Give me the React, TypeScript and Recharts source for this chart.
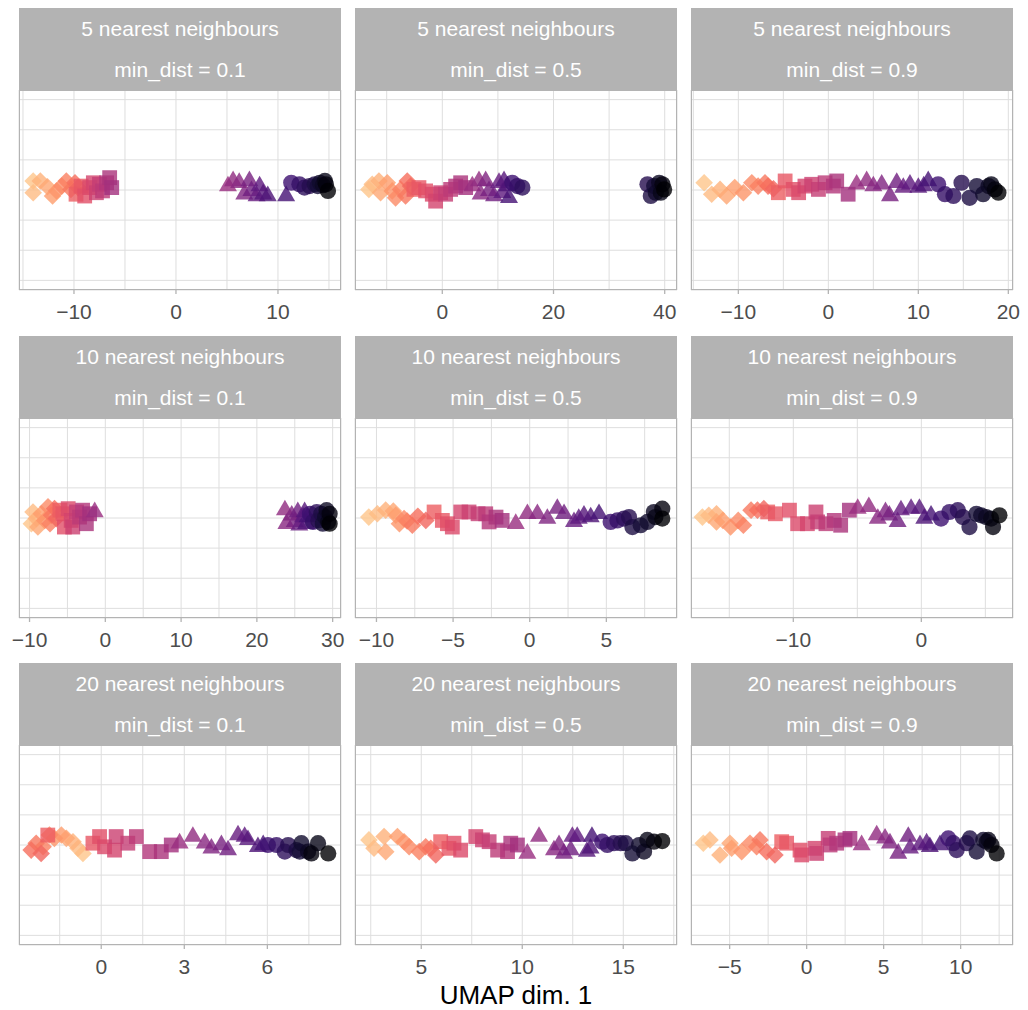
import { ScatterChart, Scatter, XAxis, YAxis, CartesianGrid } from 'recharts';

// facet labels
const NEIGHBOURS = [5, 10, 20];
const MIN_DIST = ['0.1', '0.5', '0.9'];

// point groups, 11 points each, in colour order (light -> dark)
const SHAPES = ['diamond', 'square', 'triangle', 'circle'];
const PER_SHAPE = 11;

// UMAP dim. 1 / jittered dim. 2 per facet
const nn5_md01_x = [
  -14.0, -14.0, -13.3, -12.6, -12.1, -11.7, -11.2, -10.75, -10.3, -9.9, -9.6,
  -9.8, -9.3, -8.95, -8.46, -8.1, -7.8, -7.5, -7.2, -6.8, -6.5, -6.3,
  5.1, 5.6, 6.2, 6.7, 7.2, 7.4, 7.9, 8.2, 8.55, 9.0, 10.8,
  11.3, 12.1, 12.6, 13.1, 13.6, 13.9, 14.1, 14.4, 14.6, 14.7, 14.9,
];
const nn5_md01_y = [
  0.3, -0.09, 0.3, 0.11, -0.2, -0.03, 0.13, 0.3, 0.02, 0.24, 0.08,
  -0.14, 0.13, -0.2, 0.08, 0.24, -0.09, 0.19, -0.03, 0.24, 0.41, 0.08,
  0.13, 0.3, 0.24, -0.14, 0.3, -0.03, -0.2, 0.13, -0.14, -0.2, -0.2,
  0.24, 0.19, 0.08, 0.13, 0.19, 0.13, 0.24, 0.16, 0.3, 0.19, -0.03,
];
const nn5_md05_x = [
  -13.2, -12.6, -11.4, -11.1, -9.9, -9.0, -8.4, -7.5, -6.6, -6.3, -5.7,
  -5.1, -4.2, -3.0, -1.8, -1.2, -0.3, 0.6, 1.5, 2.4, 3.3, 4.2,
  5.4, 6.6, 6.9, 7.8, 8.4, 9.3, 10.2, 10.8, 11.1, 11.7, 12.0,
  12.6, 13.5, 14.4, 36.9, 37.5, 38.1, 38.4, 39.0, 39.3, 39.6, 39.9,
];
const nn5_md05_y = [
  0.02, 0.19, 0.3, -0.09, 0.24, -0.03, -0.26, 0.02, -0.2, 0.3, 0.13,
  0.02, 0.08, -0.03, -0.14, -0.37, -0.09, -0.14, 0.02, 0.13, 0.24, 0.08,
  0.13, 0.3, -0.14, 0.3, -0.03, -0.2, 0.24, -0.09, 0.3, 0.13, -0.26,
  0.24, 0.13, 0.08, 0.19, -0.2, 0.13, -0.09, 0.24, -0.09, 0.19, 0.02,
];
const nn5_md09_x = [
  -13.8, -12.96, -12.03, -11.3, -10.4, -9.44, -8.5, -7.8, -7.04, -6.7, -6.1,
  -5.55, -4.8, -3.9, -3.3, -2.6, -1.85, -1.1, -0.36, 0.56, 0.93, 2.2,
  3.15, 4.26, 5.0, 5.93, 6.85, 7.6, 8.33, 9.07, 10.0, 10.6, 11.1,
  12.2, 12.96, 13.9, 14.8, 15.7, 16.5, 17.2, 17.8, 18.1, 18.5, 18.9,
];
const nn5_md09_y = [
  0.24, -0.14, 0.02, -0.2, 0.08, -0.09, 0.24, 0.13, 0.24, 0.13, 0.04,
  -0.09, 0.3, 0.02, -0.09, 0.13, 0.19, 0.02, 0.24, 0.13, 0.3, -0.14,
  0.19, 0.3, 0.13, 0.19, -0.2, 0.24, 0.08, 0.19, 0.08, 0.13, 0.3,
  0.19, -0.14, -0.2, 0.24, -0.26, 0.13, -0.14, 0.13, 0.19, 0.02, -0.09,
];
const nn10_md01_x = [
  -9.76, -9.54, -9.1, -8.9, -8.44, -8.0, -7.56, -7.3, -7.1, -6.7, -6.46,
  -6.0, -5.6, -5.4, -4.9, -4.5, -4.3, -3.8, -3.4, -3.0, -2.5, -2.07,
  -1.4, 23.7, 23.9, 24.6, 25.0, 25.4, 25.6, 26.1, 26.3, 26.5, 26.7,
  27.0, 27.4, 27.9, 28.1, 28.5, 28.7, 29.0, 29.2, 29.4, 29.6, 29.6,
];
const nn10_md01_y = [
  -0.19, 0.2, -0.02, -0.3, 0.14, -0.08, 0.37, -0.19, 0.09, 0.31, -0.02,
  0.26, 0.14, -0.3, 0.31, -0.08, -0.3, 0.2, 0.03, 0.26, -0.19, 0.14,
  0.2, 0.26, -0.19, 0.09, -0.13, 0.2, -0.24, 0.03, 0.2, -0.19, 0.03,
  0.14, -0.13, 0.2, -0.08, 0.14, -0.19, 0.03, 0.26, -0.13, 0.14, -0.19,
];
const nn10_md05_x = [
  -10.5, -9.94, -9.4, -8.9, -8.74, -8.5, -8.2, -8.0, -7.66, -7.3, -6.78,
  -6.24, -5.7, -5.37, -5.05, -4.5, -3.96, -3.37, -2.87, -2.65, -2.2, -1.8,
  -0.91, -0.15, 0.5, 1.15, 1.8, 2.24, 2.89, 3.2, 3.54, 3.98, 4.52,
  5.28, 5.72, 6.15, 6.48, 6.7, 7.24, 7.68, 8.1, 8.2, 8.65, 8.65,
];
const nn10_md05_y = [
  0.03, 0.14, 0.26, 0.23, 0.09, -0.19, -0.02, -0.1, -0.24, 0.06, -0.08,
  0.2, -0.08, -0.19, -0.3, 0.2, 0.2, 0.14, 0.14, -0.13, 0.03, -0.08,
  -0.19, 0.14, 0.14, -0.02, 0.31, 0.14, -0.13, -0.02, 0.09, 0.03, 0.14,
  -0.13, -0.08, -0.02, 0.03, -0.3, -0.24, -0.13, 0.2, 0.03, 0.31, -0.02,
];
const nn10_md09_x = [
  -17.1, -16.6, -16.0, -16.0, -15.5, -14.9, -14.3, -13.9, -13.3, -12.8, -12.3,
  -12.0, -11.4, -10.3, -9.66, -8.9, -8.23, -8.1, -7.45, -6.8, -6.3, -5.62,
  -4.97, -4.1, -3.4, -2.8, -2.5, -1.85, -1.59, -0.8, -0.15, 0.23, 0.76,
  1.54, 2.2, 2.85, 3.24, 3.76, 4.3, 4.67, 5.06, 5.45, 5.6, 6.1,
];
const nn10_md09_y = [
  0.03, 0.09, 0.14, -0.13, -0.08, -0.3, -0.08, -0.24, 0.26, 0.26, 0.31,
  0.2, 0.14, 0.26, -0.19, -0.19, 0.2, -0.13, -0.19, -0.08, -0.24, 0.26,
  0.31, 0.37, -0.02, 0.2, 0.09, -0.13, 0.26, 0.31, 0.31, -0.02, 0.09,
  -0.02, 0.2, 0.26, 0.03, -0.3, 0.14, 0.09, 0.03, -0.02, -0.3, 0.09,
];
const nn20_md01_x = [
  -0.66, -0.84, -1.02, -1.26, -1.44, -1.69, -1.87, -2.1, -2.35, -2.53, -2.17,
  -1.93, -0.3, -0.06, 0.12, 0.48, 0.54, 0.96, 1.27, 1.75, 2.17, 2.53,
  2.83, 3.31, 3.74, 3.98, 4.34, 4.58, 4.94, 5.18, 5.3, 5.66, 5.85,
  6.02, 6.33, 6.63, 6.75, 7.05, 7.17, 7.23, 7.47, 7.83, 7.59, 8.2,
];
const nn20_md01_y = [
  -0.28, -0.11, 0.11, 0.22, 0.33, 0.22, 0.33, -0.06, 0.06, -0.17, -0.28,
  0.33, 0.06, 0.28, -0.06, -0.17, 0.28, 0.06, 0.28, -0.22, -0.22, 0.0,
  0.06, 0.28, 0.06, -0.11, 0.0, -0.17, 0.33, 0.28, 0.17, -0.06, 0.0,
  0.0, 0.0, -0.22, 0.0, -0.17, -0.22, 0.06, -0.22, 0.06, -0.28, -0.28,
];
const nn20_md05_x = [
  2.41, 2.66, 3.16, 3.24, 3.82, 4.15, 4.4, 4.9, 5.22, 5.47, 5.72,
  5.96, 6.37, 6.62, 6.95, 7.7, 8.03, 8.36, 8.78, 9.27, 9.43, 9.76,
  10.25, 10.83, 11.57, 11.82, 12.06, 12.4, 12.48, 12.72, 13.2, 13.38, 13.45,
  13.96, 14.21, 14.54, 14.87, 15.12, 15.45, 15.78, 16.03, 16.19, 16.52, 16.93,
];
const nn20_md05_y = [
  0.17, -0.11, 0.28, -0.22, 0.28, 0.11, -0.06, -0.22, -0.06, -0.11, -0.33,
  0.11, -0.11, 0.06, -0.17, 0.28, 0.17, 0.11, -0.17, -0.22, 0.06, 0.0,
  -0.28, 0.28, -0.17, 0.0, -0.28, -0.17, 0.28, 0.28, -0.22, -0.11, 0.28,
  0.11, 0.0, 0.06, 0.06, 0.06, -0.28, 0.0, -0.22, 0.17, 0.11, 0.13,
];
const nn20_md09_x = [
  -6.71, -6.28, -5.63, -4.98, -4.87, -4.22, -3.68, -3.25, -3.03, -2.6, -2.06,
  -1.62, -1.3, -0.43, -0.32, 0.54, 0.65, 1.4, 1.52, 1.95, 2.49, 2.81,
  3.57, 4.55, 5.09, 5.41, 5.95, 6.6, 6.71, 7.36, 7.79, 8.0, 8.66,
  9.2, 9.52, 9.74, 10.39, 10.6, 11.04, 11.47, 11.69, 11.8, 12.0, 12.34,
];
const nn20_md09_y = [
  0.06, 0.17, -0.33, 0.06, -0.11, -0.22, 0.06, -0.06, 0.17, -0.22, -0.33,
  0.11, 0.06, -0.17, -0.33, -0.11, -0.28, 0.22, 0.0, 0.06, 0.17, 0.22,
  0.0, 0.33, 0.22, 0.06, -0.28, 0.28, -0.11, 0.0, 0.06, -0.06, 0.0,
  0.22, 0.06, -0.17, 0.06, 0.22, -0.22, 0.17, 0.11, 0.17, 0.0, -0.28,
];

// axis setup per facet (free x scales)
const PANELS = [
  { xs: nn5_md01_x, ys: nn5_md01_y, domain: [-15.39, 16.18], major: [-10, 0, 10], minor: [-15, -5, 5, 15] },
  { xs: nn5_md05_x, ys: nn5_md05_y, domain: [-15.7, 42.21], major: [0, 20, 40], minor: [-10, 10, 30] },
  { xs: nn5_md09_x, ys: nn5_md09_y, domain: [-15.26, 20.52], major: [-10, 0, 10, 20], minor: [-15, -5, 5, 15] },
  { xs: nn10_md01_x, ys: nn10_md01_y, domain: [-11.39, 31.1], major: [-10, 0, 10, 20, 30], minor: [-5, 5, 15, 25] },
  { xs: nn10_md05_x, ys: nn10_md05_y, domain: [-11.4, 9.61], major: [-10, -5, 0, 5], minor: [-7.5, -2.5, 2.5, 7.5] },
  { xs: nn10_md09_x, ys: nn10_md09_y, domain: [-17.99, 7.16], major: [-10, 0], minor: [-15, -5, 5] },
  { xs: nn20_md01_x, ys: nn20_md01_y, domain: [-2.97, 8.66], major: [0, 3, 6], minor: [-1.5, 1.5, 4.5, 7.5] },
  { xs: nn20_md05_x, ys: nn20_md05_y, domain: [1.72, 17.66], major: [5, 10, 15], minor: [2.5, 7.5, 12.5, 17.5] },
  { xs: nn20_md09_x, ys: nn20_md09_y, domain: [-7.51, 13.4], major: [-5, 0, 5, 10], minor: [-2.5, 2.5, 7.5, 12.5] },
];

const Y_TICKS = [-3, -2, -1, 0, 1, 2, 3];
const Y_DOMAIN = [-3.32, 3.32];

const MAGMA = [
  '#000004', '#140e36', '#3b0f70', '#641a80', '#8c2981', '#b73779',
  '#de4968', '#f7705c', '#fe9f6d', '#fecf92', '#fcfdbf',
];
const MAGMA_END = 0.88;

function magma(t: number) {
  const pos = t * (MAGMA.length - 1);
  const i = Math.min(Math.floor(pos), MAGMA.length - 2);
  const f = pos - i;
  const a = MAGMA[i];
  const b = MAGMA[i + 1];
  const ch = (s: string, k: number) => parseInt(s.slice(1 + k * 2, 3 + k * 2), 16);
  const rgb = [0, 1, 2].map((k) => Math.round(ch(a, k) + (ch(b, k) - ch(a, k)) * f));
  return `rgb(${rgb.join(',')})`;
}

const FONT = '"Liberation Sans", Arial, Helvetica, sans-serif';
const COL_LEFT = [19, 355, 691];
const ROW_TOP = [8, 336, 663];
const PANEL_W = 322;
const PANEL_H = 200;
const STRIP_H = 82;
const AXIS_H = 50;
const SIDE_PAD = 24; // room for edge tick labels
const TICK_LEN = 4;
const TICK_GAP = 8;
const GREY70 = '#b3b3b3';
const ALPHA = 0.8;

const fmt = (v: number) => (v < 0 ? `\u2212${Math.abs(v)}` : `${v}`);

function AxisTick(props: any) {
  const { x, y, payload, majors } = props;
  if (!majors.includes(payload.value)) return <g />;
  const axisY = y - TICK_LEN - TICK_GAP;
  return (
    <g>
      <line x1={x} x2={x} y1={axisY} y2={axisY + TICK_LEN} stroke={GREY70} strokeWidth={1.3} />
      <text x={x} y={axisY + 29} textAnchor="middle" fontSize={21} fill="#4d4d4d" fontFamily={FONT}>
        {fmt(payload.value)}
      </text>
    </g>
  );
}

function Marker(props: any) {
  const { cx, cy, payload } = props;
  const fill = payload.color;
  switch (payload.shape) {
    case 'diamond': {
      const r = 8.8;
      return (
        <polygon
          points={`${cx},${cy - r} ${cx + r},${cy} ${cx},${cy + r} ${cx - r},${cy}`}
          fill={fill}
          fillOpacity={ALPHA}
        />
      );
    }
    case 'square': {
      const h = 7.4;
      return <rect x={cx - h} y={cy - h} width={h * 2} height={h * 2} fill={fill} fillOpacity={ALPHA} />;
    }
    case 'triangle': {
      const r = 10.4;
      const hb = (r * Math.sqrt(3)) / 2;
      return (
        <polygon
          points={`${cx},${cy - r} ${cx + hb},${cy + r / 2} ${cx - hb},${cy + r / 2}`}
          fill={fill}
          fillOpacity={ALPHA}
        />
      );
    }
    default:
      return <circle cx={cx} cy={cy} r={8.1} fill={fill} fillOpacity={ALPHA} />;
  }
}

function Facet({ index }: { index: number }) {
  const panel = PANELS[index];
  const row = Math.floor(index / 3);
  const col = index % 3;
  const left = COL_LEFT[col];
  const top = ROW_TOP[row];
  const n = panel.xs.length;
  const data = panel.xs.map((x, i) => ({
    x,
    y: panel.ys[i],
    shape: SHAPES[Math.floor(i / PER_SHAPE)],
    color: magma(MAGMA_END * (1 - i / (n - 1))),
  }));
  const ticks = [...panel.major, ...panel.minor].sort((a, b) => a - b);

  const stripLine = {
    height: STRIP_H / 2,
    lineHeight: `${STRIP_H / 2}px`,
    textAlign: 'center' as const,
    color: '#ffffff',
    fontSize: 21,
  };

  return (
    <>
      <div style={{ position: 'absolute', left, top, width: PANEL_W, height: STRIP_H, background: GREY70 }}>
        <div style={stripLine}>{NEIGHBOURS[row]} nearest neighbours</div>
        <div style={stripLine}>min_dist = {MIN_DIST[col]}</div>
      </div>
      <div style={{ position: 'absolute', left: left - SIDE_PAD, top: top + STRIP_H }}>
        <ScatterChart
          width={PANEL_W + SIDE_PAD * 2}
          height={PANEL_H + AXIS_H}
          margin={{ top: 0, right: SIDE_PAD, bottom: 0, left: SIDE_PAD }}
        >
          <CartesianGrid stroke="#dedede" strokeWidth={1} />
          <XAxis
            type="number"
            dataKey="x"
            domain={panel.domain}
            allowDataOverflow
            ticks={ticks}
            interval={0}
            height={AXIS_H}
            axisLine={false}
            tickLine={false}
            tickSize={TICK_LEN}
            tickMargin={TICK_GAP}
            tick={(p: any) => <AxisTick {...p} majors={panel.major} />}
          />
          <YAxis type="number" dataKey="y" domain={Y_DOMAIN} ticks={Y_TICKS} hide allowDataOverflow />
          <Scatter data={data} isAnimationActive={false} shape={(p: any) => <Marker {...p} />} />
        </ScatterChart>
      </div>
      <div
        style={{
          position: 'absolute',
          left,
          top: top + STRIP_H,
          width: PANEL_W,
          height: PANEL_H,
          border: `1.4px solid ${GREY70}`,
          boxSizing: 'border-box',
          pointerEvents: 'none',
        }}
      />
    </>
  );
}

export default function App() {
  return (
    <div
      style={{
        position: 'absolute',
        left: 0,
        top: 0,
        width: 1028,
        height: 1010,
        background: '#ffffff',
        fontFamily: FONT,
      }}
    >
      {PANELS.map((_, i) => (
        <Facet key={i} index={i} />
      ))}
      <div
        style={{
          position: 'absolute',
          left: COL_LEFT[0],
          width: COL_LEFT[2] + PANEL_W - COL_LEFT[0],
          top: 981,
          textAlign: 'center',
          fontSize: 26,
          lineHeight: '28px',
          color: '#000000',
        }}
      >
        UMAP dim. 1
      </div>
    </div>
  );
}
